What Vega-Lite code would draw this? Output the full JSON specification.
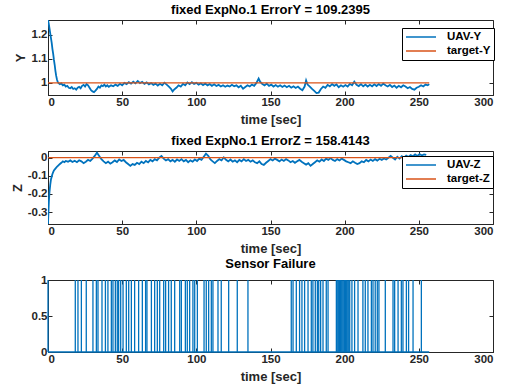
{
  "$schema": "https://vega.github.io/schema/vega-lite/v6.json",
  "padding": {"left": 10, "top": 3, "right": 0, "bottom": 0},
  "spacing": 56,
  "bounds": "flush",
  "config": {
    "font": "Liberation Sans",
    "view": {"stroke": "#262626", "strokeWidth": 1},
    "title": {"fontSize": 13, "fontWeight": "bold", "font": "Liberation Sans", "offset": 3, "color": "#000000"},
    "axis": {
      "grid": false, "labelOverlap": false, "labelSeparation": 0,
      "labelFont": "Liberation Sans", "labelFontSize": 11.5, "labelFontWeight": "bold", "labelColor": "#262626",
      "titleFont": "Liberation Sans", "titleFontSize": 13, "titleFontWeight": "bold", "titleColor": "#262626",
      "domainColor": "#262626", "tickColor": "#262626", "tickSize": -4, "labelPadding": 5
    },
    "legend": {
      "labelFont": "Liberation Sans", "labelFontSize": 11.5, "labelFontWeight": "bold", "labelColor": "#000000",
      "strokeColor": "#000000", "fillColor": "#ffffff", "padding": 3, "symbolType": "M-3,0L3,0", "symbolSize": 100,
      "symbolOffset": 10, "labelOffset": 20,
      "symbolStrokeWidth": 1.5, "rowPadding": 2, "cornerRadius": 0
    }
  },
  "datasets": {
    "uavY": [
      {"t":0,"v":1.26},{"t":0.5,"v":1.245},{"t":1,"v":1.225},{"t":1.5,"v":1.205},{"t":2,"v":1.185},{"t":2.5,"v":1.165},{"t":3,"v":1.14},{"t":3.5,"v":1.12},{"t":4,"v":1.095},{"t":4.5,"v":1.075},{"t":5,"v":1.05},{"t":5.5,"v":1.03},{"t":6,"v":1.015},{"t":6.5,"v":1.005},{"t":7,"v":1.0},{"t":8,"v":0.995},{"t":9,"v":0.998},{"t":10,"v":0.99},{"t":11,"v":0.993},{"t":12,"v":0.985},{"t":13,"v":0.988},{"t":14,"v":0.98},{"t":15,"v":0.978},{"t":16,"v":0.983},{"t":17,"v":0.975},{"t":18,"v":0.978},{"t":19,"v":0.972},{"t":20,"v":0.98},{"t":21,"v":0.984},{"t":22,"v":0.978},{"t":23,"v":0.988},{"t":24,"v":0.992},{"t":25,"v":0.985},{"t":26,"v":0.995},{"t":27,"v":0.99},{"t":28,"v":0.98},{"t":29,"v":0.97},{"t":30,"v":0.965},{"t":31,"v":0.962},{"t":32,"v":0.968},{"t":33,"v":0.975},{"t":34,"v":0.985},{"t":35,"v":0.98},{"t":36,"v":0.99},{"t":37,"v":0.987},{"t":38,"v":0.993},{"t":39,"v":0.985},{"t":40,"v":0.99},
      {"t":41,"v":0.984},{"t":42.5,"v":0.99},{"t":44,"v":0.986},{"t":45.5,"v":0.993},{"t":47,"v":0.988},{"t":48.5,"v":0.996},{"t":50,"v":0.99},{"t":51.5,"v":1.0},{"t":53,"v":0.995},{"t":54.5,"v":1.003},{"t":56,"v":0.997},{"t":57.5,"v":1.005},{"t":59,"v":0.998},{"t":60.5,"v":1.008},{"t":62,"v":0.999},{"t":63.5,"v":1.004},{"t":65,"v":0.996},{"t":66.5,"v":1.002},{"t":68,"v":0.994},{"t":69.5,"v":0.999},{"t":71,"v":0.992},{"t":72.5,"v":0.997},{"t":74,"v":0.989},{"t":75.5,"v":0.996},{"t":77,"v":0.99},{"t":78.5,"v":1.001},{"t":80,"v":0.993},{"t":81.5,"v":0.985},{"t":83,"v":0.975},{"t":84,"v":0.965},{"t":85,"v":0.972},{"t":86.5,"v":0.98},{"t":88,"v":0.99},{"t":89.5,"v":0.985},{"t":91,"v":0.996},{"t":92.5,"v":0.99},{"t":94,"v":1.002},{"t":95.5,"v":0.995},{"t":97,"v":1.003},{"t":98.5,"v":0.996},{"t":100,"v":1.0},{"t":101.5,"v":0.993},{"t":103,"v":0.998},{"t":104.5,"v":0.991},{"t":106,"v":0.997},{"t":107.5,"v":0.99},{"t":109,"v":0.995},{"t":110.5,"v":0.988},{"t":112,"v":0.994},{"t":113.5,"v":0.987},{"t":115,"v":0.992},{"t":116.5,"v":0.985},{"t":118,"v":0.99},{"t":119.5,"v":0.984},{"t":121,"v":0.989},{"t":122.5,"v":0.985},{"t":124,"v":0.992},{"t":125.5,"v":0.986},{"t":127,"v":0.99},{"t":128.5,"v":0.982},{"t":130,"v":0.988},{"t":131.5,"v":0.976},{"t":133,"v":0.983},{"t":134.5,"v":0.99},{"t":136,"v":0.985},{"t":137.5,"v":0.993},{"t":139,"v":0.988},{"t":140.5,"v":1.0},{"t":142,"v":1.018},{"t":143,"v":1.005},{"t":144.5,"v":0.995},{"t":146,"v":0.99},{"t":147.5,"v":0.997},{"t":149,"v":0.988},{"t":150.5,"v":0.993},{"t":152,"v":0.985},{"t":153.5,"v":0.991},{"t":155,"v":0.984},{"t":156.5,"v":0.99},{"t":158,"v":0.983},{"t":159.5,"v":0.989},{"t":161,"v":0.982},{"t":162.5,"v":0.988},{"t":164,"v":0.98},{"t":165.5,"v":0.986},{"t":167,"v":0.979},{"t":168.5,"v":0.985},{"t":170,"v":0.976},{"t":171.5,"v":0.97},{"t":173,"v":0.985},{"t":174,"v":1.01},{"t":175,"v":0.993},{"t":176.5,"v":0.985},{"t":178,"v":0.975},{"t":179.5,"v":0.967},{"t":181,"v":0.958},{"t":182.5,"v":0.96},{"t":184,"v":0.975},{"t":185.5,"v":0.985},{"t":187,"v":0.98},{"t":188.5,"v":0.992},{"t":190,"v":0.986},{"t":191.5,"v":0.995},{"t":193,"v":0.988},{"t":194.5,"v":0.994},{"t":196,"v":0.982},{"t":197.5,"v":0.99},{"t":199,"v":0.984},{"t":200.5,"v":0.991},{"t":202,"v":0.985},{"t":203.5,"v":0.996},{"t":205,"v":0.99},{"t":206.5,"v":1.005},{"t":208,"v":0.992},{"t":209.5,"v":0.987},{"t":211,"v":0.995},{"t":212.5,"v":0.986},{"t":214,"v":0.993},{"t":215.5,"v":0.985},{"t":217,"v":0.992},{"t":218.5,"v":0.986},{"t":220,"v":0.994},{"t":221.5,"v":0.987},{"t":223,"v":0.995},{"t":224.5,"v":0.988},{"t":226,"v":0.997},{"t":227.5,"v":0.99},{"t":229,"v":0.985},{"t":230.5,"v":0.992},{"t":232,"v":0.983},{"t":233.5,"v":0.989},{"t":235,"v":0.98},{"t":236.5,"v":0.988},{"t":238,"v":0.982},{"t":239.5,"v":0.99},{"t":241,"v":0.985},{"t":242.5,"v":0.978},{"t":244,"v":0.983},{"t":245.5,"v":0.975},{"t":247,"v":0.972},{"t":248.5,"v":0.98},{"t":250,"v":0.984},{"t":251.5,"v":0.99},{"t":253,"v":0.985},{"t":254.5,"v":0.993},{"t":256,"v":0.99},{"t":257,"v":0.995}
    ],
    "uavZ": [
      {"t":0,"v":-0.366},{"t":0.3,"v":-0.3},{"t":0.6,"v":-0.24},{"t":1,"v":-0.19},{"t":1.5,"v":-0.15},{"t":2,"v":-0.12},{"t":2.5,"v":-0.105},{"t":3,"v":-0.09},{"t":3.5,"v":-0.08},{"t":4,"v":-0.07},{"t":5,"v":-0.06},{"t":6,"v":-0.05},{"t":7,"v":-0.042},{"t":8,"v":-0.035},{"t":9,"v":-0.028},{"t":10,"v":-0.02},{"t":11,"v":-0.025},{"t":12,"v":-0.018},{"t":13.5,"v":-0.022},{"t":15,"v":-0.015},{"t":16.5,"v":-0.024},{"t":18,"v":-0.017},{"t":19.5,"v":-0.025},{"t":21,"v":-0.014},{"t":22.5,"v":-0.02},{"t":24,"v":-0.03},{"t":25.5,"v":-0.022},{"t":27,"v":-0.012},{"t":28.5,"v":-0.018},{"t":30,"v":-0.005},{"t":31.5,"v":0.01},{"t":33,"v":0.028},{"t":34.5,"v":0.01},{"t":36,"v":-0.008},{"t":37.5,"v":-0.02},{"t":39,"v":-0.03},{"t":40.5,"v":-0.022},{"t":42,"v":-0.033},{"t":43.5,"v":-0.025},{"t":45,"v":-0.015},{"t":46.5,"v":-0.024},{"t":48,"v":-0.01},{"t":49.5,"v":-0.018},{"t":51,"v":-0.012},{"t":52.5,"v":-0.025},{"t":54,"v":-0.035},{"t":55.5,"v":-0.045},{"t":57,"v":-0.035},{"t":58.5,"v":-0.04},{"t":60,"v":-0.028},{"t":61.5,"v":-0.035},{"t":63,"v":-0.022},{"t":64.5,"v":-0.03},{"t":66,"v":-0.018},{"t":67.5,"v":-0.026},{"t":69,"v":-0.012},{"t":70.5,"v":-0.02},{"t":72,"v":-0.008},{"t":73.5,"v":-0.015},{"t":75,"v":0.0},{"t":76.5,"v":0.01},{"t":78,"v":-0.005},{"t":79.5,"v":-0.015},{"t":81,"v":-0.008},{"t":82.5,"v":-0.02},{"t":84,"v":-0.012},{"t":85.5,"v":-0.022},{"t":87,"v":-0.01},{"t":88.5,"v":-0.018},{"t":90,"v":-0.008},{"t":91.5,"v":-0.02},{"t":93,"v":-0.012},{"t":94.5,"v":-0.025},{"t":96,"v":-0.015},{"t":97.5,"v":-0.022},{"t":99,"v":-0.01},{"t":100.5,"v":-0.018},{"t":102,"v":-0.005},{"t":103.5,"v":-0.012},{"t":105,"v":0.005},{"t":106.5,"v":0.022},{"t":108,"v":0.01},{"t":109.5,"v":-0.01},{"t":111,"v":-0.02},{"t":112.5,"v":-0.03},{"t":114,"v":-0.018},{"t":115.5,"v":-0.008},{"t":117,"v":-0.015},{"t":118.5,"v":0.002},{"t":120,"v":-0.012},{"t":121.5,"v":-0.02},{"t":123,"v":-0.01},{"t":124.5,"v":-0.022},{"t":126,"v":-0.015},{"t":127.5,"v":-0.025},{"t":129,"v":-0.012},{"t":130.5,"v":-0.02},{"t":132,"v":-0.008},{"t":133.5,"v":-0.018},{"t":135,"v":-0.012},{"t":136.5,"v":-0.022},{"t":138,"v":-0.015},{"t":139.5,"v":-0.025},{"t":141,"v":-0.03},{"t":142.5,"v":-0.02},{"t":144,"v":-0.035},{"t":145.5,"v":-0.04},{"t":147,"v":-0.028},{"t":148.5,"v":-0.018},{"t":150,"v":-0.008},{"t":151.5,"v":-0.015},{"t":153,"v":-0.005},{"t":154.5,"v":-0.012},{"t":156,"v":-0.02},{"t":157.5,"v":-0.01},{"t":159,"v":-0.018},{"t":160.5,"v":-0.008},{"t":162,"v":-0.015},{"t":163.5,"v":-0.025},{"t":165,"v":-0.018},{"t":166.5,"v":-0.028},{"t":168,"v":-0.02},{"t":169.5,"v":-0.012},{"t":171,"v":-0.022},{"t":172.5,"v":-0.03},{"t":174,"v":-0.038},{"t":175.5,"v":-0.03},{"t":177,"v":-0.045},{"t":178.5,"v":-0.035},{"t":180,"v":-0.025},{"t":181.5,"v":-0.015},{"t":183,"v":-0.022},{"t":184.5,"v":-0.01},{"t":186,"v":-0.018},{"t":187.5,"v":-0.005},{"t":189,"v":-0.012},{"t":190.5,"v":-0.002},{"t":192,"v":-0.012},{"t":193.5,"v":-0.018},{"t":195,"v":-0.008},{"t":196.5,"v":-0.015},{"t":198,"v":-0.005},{"t":199.5,"v":-0.012},{"t":201,"v":-0.02},{"t":202.5,"v":-0.025},{"t":204,"v":-0.03},{"t":205.5,"v":-0.02},{"t":207,"v":-0.028},{"t":208.5,"v":-0.035},{"t":210,"v":-0.03},{"t":211.5,"v":-0.02},{"t":213,"v":-0.025},{"t":214.5,"v":-0.012},{"t":216,"v":-0.02},{"t":217.5,"v":-0.01},{"t":219,"v":-0.018},{"t":220.5,"v":-0.008},{"t":222,"v":-0.016},{"t":223.5,"v":-0.006},{"t":225,"v":-0.012},{"t":226.5,"v":-0.004},{"t":228,"v":-0.01},{"t":229.5,"v":0.0},{"t":231,"v":0.01},{"t":232.5,"v":0.0},{"t":234,"v":-0.01},{"t":235.5,"v":0.005},{"t":237,"v":-0.005},{"t":238.5,"v":0.008},{"t":240,"v":0.0},{"t":241.5,"v":0.012},{"t":243,"v":0.004},{"t":244.5,"v":0.015},{"t":246,"v":0.008},{"t":247.5,"v":0.018},{"t":249,"v":0.01},{"t":250.5,"v":0.02},{"t":252,"v":0.012},{"t":253.5,"v":0.018},{"t":255,"v":0.015}
    ],
    "spikes": [
      {"t":0},{"t":18.4},{"t":20.2},{"t":22.5},{"t":25.8},{"t":30.3},{"t":32.6},{"t":33.7},{"t":36.4},{"t":38.7},{"t":40.4},{"t":42.7},{"t":43.8},{"t":45.4},{"t":46.7},{"t":47.6},{"t":49.0},{"t":50.6},{"t":52.8},{"t":54.4},{"t":56.2},{"t":58.4},{"t":61.1},{"t":63.6},{"t":65.8},{"t":66.7},{"t":69.7},{"t":71.9},{"t":73.7},{"t":75.3},{"t":78.0},{"t":79.3},{"t":81.3},{"t":83.1},{"t":85.4},{"t":88.8},{"t":89.9},{"t":92.6},{"t":93.9},{"t":95.5},{"t":97.7},{"t":98.9},{"t":100.7},{"t":105.2},{"t":106.7},{"t":108.3},{"t":110.1},{"t":111.2},{"t":114.6},{"t":116.8},{"t":121.8},{"t":127.6},{"t":134.8},{"t":164.0},{"t":165.2},{"t":167.4},{"t":169.6},{"t":171.2},{"t":173.0},{"t":175.3},{"t":177.5},{"t":178.6},{"t":180.2},{"t":181.6},{"t":182.5},{"t":183.8},{"t":185.4},{"t":187.6},{"t":188.8},{"t":194.4},{"t":194.9},{"t":195.5},{"t":196.0},{"t":196.6},{"t":197.2},{"t":197.7},{"t":198.3},{"t":198.9},{"t":199.5},{"t":200.0},{"t":200.5},{"t":201.1},{"t":201.6},{"t":202.2},{"t":202.8},{"t":203.4},{"t":204.9},{"t":206.7},{"t":209.0},{"t":212.3},{"t":213.9},{"t":215.7},{"t":218.0},{"t":219.1},{"t":220.6},{"t":222.0},{"t":223.1},{"t":227.4},{"t":232.6},{"t":233.7},{"t":236.0},{"t":238.2},{"t":239.3},{"t":241.6},{"t":243.1},{"t":246.1},{"t":251.7}
    ]
  },
  "vconcat": [
    {
      "width": 445, "height": 75,
      "title": "fixed ExpNo.1 ErrorY = 109.2395",
      "layer": [
        {
          "data": {"name": "uavY"},
          "transform": [{"calculate": "'UAV-Y'", "as": "s"}],
          "mark": {"type": "line", "strokeWidth": 1.8, "clip": true},
          "encoding": {
            "x": {"field": "t", "type": "quantitative", "scale": {"domain": [0, 300], "nice": false, "zero": false}, "axis": {"values": [0,50,100,150,200,250,300], "title": "time [sec]", "titlePadding": 6, "labelOverlap": false, "labelExpr": "toString(datum.value)"}},
            "y": {"field": "v", "type": "quantitative", "scale": {"domain": [0.95, 1.26], "nice": false, "zero": false}, "axis": {"values": [1, 1.1, 1.2], "title": "Y", "titlePadding": 4, "labelOverlap": false, "labelExpr": "toString(datum.value)"}},
            "color": {"field": "s", "type": "nominal", "scale": {"domain": ["UAV-Y", "target-Y"], "range": ["#0072BD", "#D95319"]}, "legend": {"title": null, "orient": "none", "legendX": 354, "legendY": 8}}
          }
        },
        {
          "data": {"values": [{"t": 0, "v": 1, "s": "target-Y"}, {"t": 257, "v": 1, "s": "target-Y"}]},
          "mark": {"type": "line", "strokeWidth": 1.3},
          "encoding": {
            "x": {"field": "t", "type": "quantitative", "axis": {"orient": "top", "values": [0,50,100,150,200,250,300], "labels": false, "title": null, "domain": false}},
            "y": {"field": "v", "type": "quantitative", "axis": {"orient": "right", "values": [1, 1.1, 1.2], "labels": false, "title": null, "domain": false}},
            "color": {"field": "s", "type": "nominal"}
          }
        }
      ],
      "resolve": {"axis": {"x": "independent", "y": "independent"}}
    },
    {
      "width": 445, "height": 73,
      "title": "fixed ExpNo.1 ErrorZ = 158.4143",
      "layer": [
        {
          "data": {"name": "uavZ"},
          "transform": [{"calculate": "'UAV-Z'", "as": "s"}],
          "mark": {"type": "line", "strokeWidth": 1.8, "clip": true},
          "encoding": {
            "x": {"field": "t", "type": "quantitative", "scale": {"domain": [0, 300], "nice": false, "zero": false}, "axis": {"values": [0,50,100,150,200,250,300], "title": "time [sec]", "titlePadding": 6, "labelOverlap": false, "labelExpr": "toString(datum.value)"}},
            "y": {"field": "v", "type": "quantitative", "scale": {"domain": [-0.366, 0.037], "nice": false, "zero": false}, "axis": {"values": [-0.3, -0.2, -0.1, 0], "title": "Z", "titlePadding": 3, "labelOverlap": false, "labelExpr": "toString(datum.value)"}},
            "color": {"field": "s", "type": "nominal", "scale": {"domain": ["UAV-Z", "target-Z"], "range": ["#0072BD", "#D95319"]}, "legend": {"title": null, "orient": "none", "legendX": 354, "legendY": 5}}
          }
        },
        {
          "data": {"values": [{"t": 0, "v": 0, "s": "target-Z"}, {"t": 255, "v": 0, "s": "target-Z"}]},
          "mark": {"type": "line", "strokeWidth": 1.3},
          "encoding": {
            "x": {"field": "t", "type": "quantitative", "axis": {"orient": "top", "values": [0,50,100,150,200,250,300], "labels": false, "title": null, "domain": false}},
            "y": {"field": "v", "type": "quantitative", "axis": {"orient": "right", "values": [-0.3, -0.2, -0.1, 0], "labels": false, "title": null, "domain": false}},
            "color": {"field": "s", "type": "nominal"}
          }
        }
      ],
      "resolve": {"axis": {"x": "independent", "y": "independent"}}
    },
    {
      "width": 445, "height": 72,
      "title": "Sensor Failure",
      "layer": [
        {
          "data": {"name": "spikes"},
          "transform": [{"calculate": "0", "as": "lo"}, {"calculate": "1", "as": "hi"}],
          "mark": {"type": "rule", "color": "#0072BD", "strokeWidth": 1.3},
          "encoding": {
            "x": {"field": "t", "type": "quantitative", "scale": {"domain": [0, 300], "nice": false, "zero": false}, "axis": {"values": [0,50,100,150,200,250,300], "title": "time [sec]", "titlePadding": 6, "labelOverlap": false, "labelExpr": "toString(datum.value)"}},
            "y": {"field": "lo", "type": "quantitative", "scale": {"domain": [0, 1], "nice": false}, "axis": {"values": [0, 0.5, 1], "title": null, "labelOverlap": false, "labelExpr": "toString(datum.value)"}},
            "y2": {"field": "hi"}
          }
        },
        {
          "data": {"values": [{"t": 0, "v": 0}, {"t": 257, "v": 0}]},
          "mark": {"type": "line", "color": "#0072BD", "strokeWidth": 1.3},
          "encoding": {
            "x": {"field": "t", "type": "quantitative", "axis": {"orient": "top", "values": [0,50,100,150,200,250,300], "labels": false, "title": null, "domain": false}},
            "y": {"field": "v", "type": "quantitative", "axis": {"orient": "right", "values": [0, 0.5, 1], "labels": false, "title": null, "domain": false}}
          }
        }
      ],
      "resolve": {"axis": {"x": "independent", "y": "independent"}}
    }
  ],
  "resolve": {"scale": {"color": "independent"}, "legend": {"color": "independent"}}
}
